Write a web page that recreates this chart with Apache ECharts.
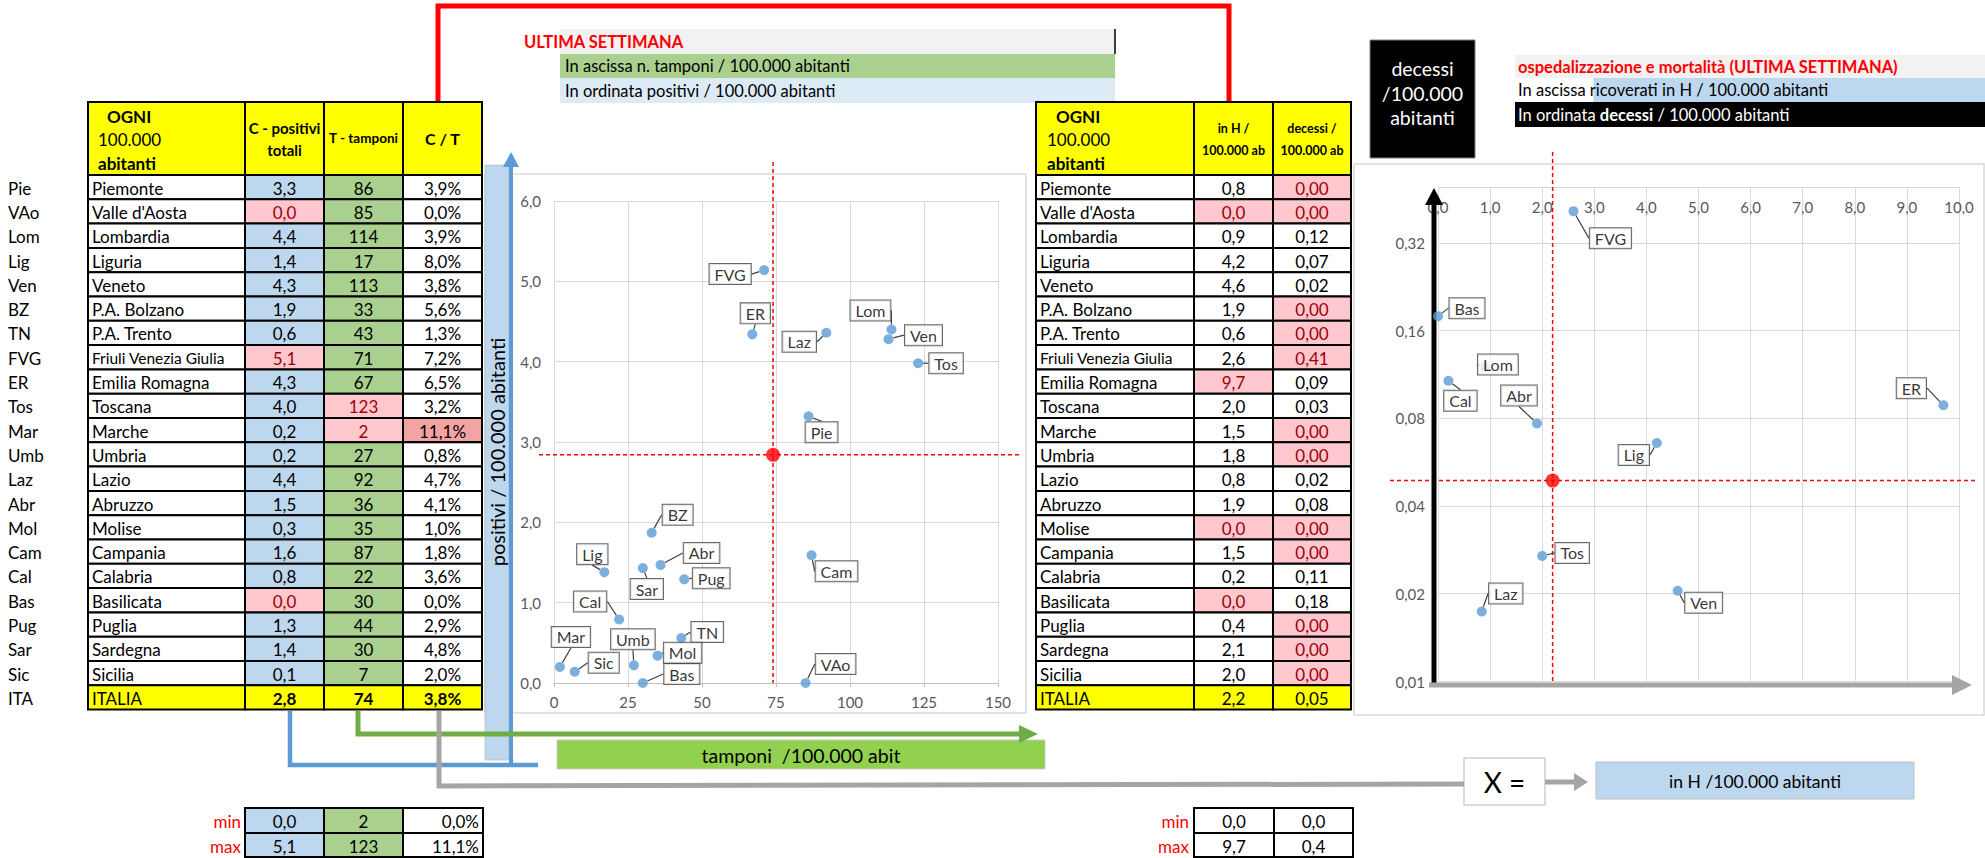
<!DOCTYPE html>
<html>
<head>
<meta charset="utf-8">
<script src="https://cdn.jsdelivr.net/npm/echarts@6/dist/echarts.min.js"></script>
<style>
  html, body { margin: 0; padding: 0; background: #fff; }
  #main { width: 1985px; height: 858px; }
</style>
</head>
<body>
<div id="main"></div>
<script>
// dati settimanali ogni 100.000 abitanti
const abbr = ['Pie', 'VAo', 'Lom', 'Lig', 'Ven', 'BZ', 'TN', 'FVG', 'ER', 'Tos', 'Mar', 'Umb', 'Laz', 'Abr', 'Mol', 'Cam', 'Cal', 'Bas', 'Pug', 'Sar', 'Sic'];
const regioni = ['Piemonte', "Valle d'Aosta", 'Lombardia', 'Liguria', 'Veneto', 'P.A. Bolzano', 'P.A. Trento', 'Friuli Venezia Giulia', 'Emilia Romagna', 'Toscana', 'Marche', 'Umbria', 'Lazio', 'Abruzzo', 'Molise', 'Campania', 'Calabria', 'Basilicata', 'Puglia', 'Sardegna', 'Sicilia'];
const positivi = [3.32, 0, 4.40, 1.38, 4.28, 1.87, 0.56, 5.14, 4.34, 3.98, 0.20, 0.22, 4.36, 1.47, 0.34, 1.59, 0.79, 0, 1.29, 1.43, 0.14];
const tamponi = [86, 85, 114, 17, 113, 33, 43, 71, 67, 123, 2, 27, 92, 36, 35, 87, 22, 30, 44, 30, 7];
const cSuT = [3.9, 0.0, 3.9, 8.0, 3.8, 5.6, 1.3, 7.2, 6.5, 3.2, 11.1, 0.8, 4.7, 4.1, 1.0, 1.8, 3.6, 0.0, 2.9, 4.8, 2.0];
const inH = [0.8, 0, 0.9, 4.2, 4.6, 1.9, 0.6, 2.6, 9.7, 2.0, 1.5, 1.8, 0.84, 1.9, 0, 1.5, 0.2, 0, 0.4, 2.1, 2.0];
const decessi = [0, 0, 0.12, 0.066, 0.0205, 0, 0, 0.413, 0.089, 0.027, 0, 0, 0.0174, 0.077, 0, 0, 0.108, 0.18, 0, 0, 0];

const itaPositivi = 2.84, itaTamponi = 74, itaCsuT = 3.8, itaInH = 2.2, itaDecessi = 0.049;

// posizione delle etichette (dx, dy rispetto al punto)
const callout1 = { FVG: [-34, 4], ER: [3, -21], Laz: [-27, 9], Lom: [-21, -19], Ven: [35, -4], Tos: [28, 0], Pie: [13, 16], BZ: [26, -18], Lig: [-12, -18], Sar: [4, 21], Abr: [41, -12], Pug: [27, -1], Cam: [25, 16], Cal: [-29, -18], TN: [26, -6], Mar: [11, -30], Sic: [29, -9], Umb: [-1, -26], Mol: [25, -3], Bas: [39, -9], VAo: [30, -19] };
const callout2 = { FVG: [37, 27], Bas: [29, -8], Lom: [13, -3], Cal: [12, 20], Abr: [-18, -28], ER: [-32, -17], Lig: [-23, 12], Tos: [30, -3], Laz: [24, -18], Ven: [26, 12] };

const FONT = 'Lato, "Liberation Sans", sans-serif';
const fmt = (v, d) => v.toFixed(d).replace('.', ',');

const g = [];
function rect(x, y, w, h, fill, stroke, lw, z) {
  g.push({ type: 'rect', silent: true, z: z || 0, shape: { x: x, y: y, width: w, height: h },
    style: { fill: fill || 'transparent', stroke: stroke || null, lineWidth: lw || 0 } });
}
function text(x, y, s, o) {
  o = o || {};
  g.push({ type: 'text', silent: true, x: x, y: y, z: o.z || 6, rotation: o.rot || 0,
    style: { text: s, fill: o.color || '#000', fontSize: o.size || 17, fontFamily: FONT,
      fontWeight: o.bold ? 'bold' : 'normal', align: o.align || 'left', verticalAlign: 'middle', rich: o.rich } });
}
function line(points, color, lw, dash, z) {
  g.push({ type: 'polyline', silent: true, z: z || 3, shape: { points: points },
    style: { stroke: color, lineWidth: lw, fill: null, lineDash: dash || null } });
}
function tri(points, color, z) {
  g.push({ type: 'polygon', silent: true, z: z || 3, shape: { points: points }, style: { fill: color } });
}

const PINK = '#FFC7CE', PINKTXT = '#9C0006', BLUE = '#BDD7EE', GREEN = '#A9D08E', YELLOW = '#FFFF00';
const HT = 102, HB = 175, RH = 24.3;

function cell(x0, x1, y0, y1, fill) { rect(x0, y0, x1 - x0, y1 - y0, fill, '#000', 2, 2); }

// ---- tabella sinistra ----
const LX = [88, 245, 324, 403, 482];
for (let c = 0; c < 4; c++) cell(LX[c], LX[c + 1], HT, HB, YELLOW);
text(107, 116, 'OGNI', { bold: true });
text(98, 139, '100.000');
text(98, 163, 'abitanti', { bold: true });
text(284.5, 128, 'C - positivi', { bold: true, align: 'center', size: 15 });
text(284.5, 150, 'totali', { bold: true, align: 'center', size: 15 });
text(363.5, 138, 'T - tamponi', { bold: true, align: 'center', size: 13.5 });
text(442.5, 138, 'C / T', { bold: true, align: 'center', size: 16 });

const cMin = fmt(Math.min(...positivi), 1), cMax = fmt(Math.max(...positivi), 1);
const tMin = Math.min(...tamponi), tMax = Math.max(...tamponi);
const ctMax = Math.max(...cSuT), ctMin = Math.min(...cSuT);

for (let i = 0; i <= regioni.length; i++) {
  const y0 = HB + i * RH, y1 = y0 + RH, ym = y0 + RH / 2 + 1;
  const ita = i === regioni.length;
  text(8, ym, ita ? 'ITA' : abbr[i]);
  if (ita) {
    for (let c = 0; c < 4; c++) cell(LX[c], LX[c + 1], y0, y1, YELLOW);
    text(92, ym, 'ITALIA');
    text(284.5, ym, fmt(itaPositivi, 1), { bold: true, align: 'center' });
    text(363.5, ym, String(itaTamponi), { bold: true, align: 'center' });
    text(442.5, ym, fmt(itaCsuT, 1) + '%', { bold: true, align: 'center' });
    continue;
  }
  const cs = fmt(positivi[i], 1);
  const cHi = cs === cMin || cs === cMax;
  const tHi = tamponi[i] === tMin || tamponi[i] === tMax;
  const ctHi = cSuT[i] === ctMax;
  cell(LX[0], LX[1], y0, y1, '#fff');
  cell(LX[1], LX[2], y0, y1, cHi ? PINK : BLUE);
  cell(LX[2], LX[3], y0, y1, tHi ? PINK : GREEN);
  cell(LX[3], LX[4], y0, y1, ctHi ? '#F4A3A3' : '#fff');
  const long = regioni[i].length > 16;
  text(92, ym, regioni[i], { size: long ? 15.5 : 17 });
  text(284.5, ym, cs, { align: 'center', color: cHi ? PINKTXT : '#000' });
  text(363.5, ym, String(tamponi[i]), { align: 'center', color: tHi ? PINKTXT : '#000' });
  text(442.5, ym, fmt(cSuT[i], 1) + '%', { align: 'center' });
}

// ---- tabella destra ----
const RX = [1036, 1194, 1273, 1351];
for (let c = 0; c < 3; c++) cell(RX[c], RX[c + 1], HT, HB, YELLOW);
text(1056, 116, 'OGNI', { bold: true });
text(1047, 139, '100.000');
text(1047, 163, 'abitanti', { bold: true });
text(1233.5, 128, 'in H /', { bold: true, align: 'center', size: 12.5 });
text(1233.5, 150, '100.000 ab', { bold: true, align: 'center', size: 12.5 });
text(1312, 128, 'decessi /', { bold: true, align: 'center', size: 12.5 });
text(1312, 150, '100.000 ab', { bold: true, align: 'center', size: 12.5 });

const hMin = fmt(Math.min(...inH), 1), hMax = fmt(Math.max(...inH), 1);
const dMin = fmt(Math.min(...decessi), 2), dMax = fmt(Math.max(...decessi), 2);
for (let i = 0; i <= regioni.length; i++) {
  const y0 = HB + i * RH, y1 = y0 + RH, ym = y0 + RH / 2 + 1;
  if (i === regioni.length) {
    for (let c = 0; c < 3; c++) cell(RX[c], RX[c + 1], y0, y1, YELLOW);
    text(1040, ym, 'ITALIA');
    text(1233.5, ym, fmt(itaInH, 1), { align: 'center' });
    text(1312, ym, fmt(itaDecessi, 2), { align: 'center' });
    continue;
  }
  const hs = fmt(inH[i], 1), ds = fmt(decessi[i], 2);
  const hHi = hs === hMin || hs === hMax, dHi = ds === dMin || ds === dMax;
  cell(RX[0], RX[1], y0, y1, '#fff');
  cell(RX[1], RX[2], y0, y1, hHi ? PINK : '#fff');
  cell(RX[2], RX[3], y0, y1, dHi ? PINK : '#fff');
  text(1040, ym, regioni[i], { size: regioni[i].length > 16 ? 15.5 : 17 });
  text(1233.5, ym, hs, { align: 'center', color: hHi ? PINKTXT : '#000' });
  text(1312, ym, ds, { align: 'center', color: dHi ? PINKTXT : '#000' });
}

// ---- min / max ----
const MY = [808, 833, 857];
for (let r = 0; r < 2; r++) {
  const ym = (MY[r] + MY[r + 1]) / 2 + 1;
  cell(245, 324, MY[r], MY[r + 1], BLUE);
  cell(324, 403, MY[r], MY[r + 1], GREEN);
  cell(403, 483, MY[r], MY[r + 1], '#fff');
  cell(1194, 1274, MY[r], MY[r + 1], '#fff');
  cell(1274, 1353, MY[r], MY[r + 1], '#fff');
  text(241, ym, r ? 'max' : 'min', { align: 'right', color: '#FF0000' });
  text(1189, ym, r ? 'max' : 'min', { align: 'right', color: '#FF0000' });
}
text(284.5, 821.5, cMin, { align: 'center' });
text(284.5, 846, cMax, { align: 'center' });
text(363.5, 821.5, String(tMin), { align: 'center' });
text(363.5, 846, String(tMax), { align: 'center' });
text(479, 821.5, fmt(ctMin, 1) + '%', { align: 'right' });
text(479, 846, fmt(ctMax, 1) + '%', { align: 'right' });
text(1234, 821.5, hMin, { align: 'center' });
text(1234, 846, hMax, { align: 'center' });
text(1313.5, 821.5, fmt(Math.min(...decessi), 1), { align: 'center' });
text(1313.5, 846, fmt(Math.max(...decessi), 1), { align: 'center' });

// ---- riquadri testo in alto ----
rect(560, 29, 555, 25, '#F2F2F2');
line([[1115, 29], [1115, 54]], '#000', 1.5);
text(524, 42, 'ULTIMA SETTIMANA', { bold: true, color: '#FF0000', size: 16.5 });
rect(560, 54, 555, 24, GREEN);
text(565, 66, 'In ascissa n. tamponi / 100.000 abitanti', { size: 16.5 });
rect(560, 78, 555, 25, '#DDEBF7');
text(565, 91, 'In ordinata positivi / 100.000 abitanti', { size: 16.5 });

rect(1370, 40, 105, 118, '#000', '#7F7F7F', 1);
text(1422.5, 68, 'decessi', { color: '#fff', size: 19.5, align: 'center' });
text(1422.5, 93, '/100.000', { color: '#fff', size: 19.5, align: 'center' });
text(1422.5, 117, 'abitanti', { color: '#fff', size: 19.5, align: 'center' });
rect(1515, 55, 470, 23, '#F2F2F2');
text(1518, 67, 'ospedalizzazione e mortalità (ULTIMA SETTIMANA)', { bold: true, color: '#FF0000', size: 16.5 });
rect(1593.5, 78, 391.5, 24, BLUE);
text(1518, 90, 'In ascissa ricoverati in H / 100.000 abitanti', { size: 16.5 });
rect(1515, 102, 470, 25, '#000');
text(1518, 115, 'In ordinata {b|decessi} / 100.000 abitanti', { size: 16.5, color: '#fff',
  rich: { b: { fontWeight: 'bold', fontSize: 16.5, fontFamily: FONT, fill: '#fff', color: '#fff' } } });

// ---- cornici dei grafici ----
rect(485, 174, 541, 539, 'transparent', '#D9D9D9', 1.5, 0);
rect(1354, 164, 630, 551, 'transparent', '#D9D9D9', 1.5, 0);

// ---- frecce e collegamenti ----
line([[438, 101], [438, 6], [1229, 6], [1229, 101]], '#FF0000', 5, null, 4);

rect(485, 165, 24, 595, BLUE, '#A6A6A6', 0.5, 1);
text(497, 452, 'positivi / 100.000 abitanti', { rot: Math.PI / 2, size: 20, align: 'center' });
line([[511, 765], [511, 164]], '#5B9BD5', 4);
tri([[511, 152], [503, 167], [519, 167]], '#5B9BD5');
line([[290, 711], [290, 765], [538, 765]], '#5B9BD5', 4.5);

line([[358, 711], [358, 734], [1020, 734]], '#70AD47', 5);
tri([[1038, 734], [1019, 725], [1019, 743]], '#70AD47');
rect(557, 740, 488, 29, '#92D050', '#C9C9C9', 1);
text(801, 755.5, 'tamponi  /100.000 abit', { size: 19.5, align: 'center' });

line([[439, 711], [439, 786], [1464, 784]], '#A5A5A5', 5);
rect(1464, 758, 81, 47, '#fff', '#D0D0D0', 1.5);
text(1504.5, 782, 'X =', { size: 28, align: 'center' });
line([[1545, 782], [1575, 782]], '#A5A5A5', 5);
tri([[1588, 782], [1574, 773], [1574, 791]], '#A5A5A5');
rect(1596, 762, 318, 37, BLUE, '#BFBFBF', 1);
text(1755, 781, 'in H /100.000 abitanti', { size: 17.5, align: 'center' });

// frecce del secondo grafico
line([[1434, 684], [1434, 202]], '#000', 5, null, 4);
tri([[1434, 188], [1425, 205], [1443, 205]], '#000', 4);
line([[1429, 685], [1955, 685]], '#A5A5A5', 5, null, 4);
tri([[1972, 685], [1952, 675], [1952, 695]], '#A5A5A5', 4);

// ---- dati dei grafici ----
const dataC = abbr.map((a, i) => [tamponi[i], positivi[i], a]);
const dataH = [];
abbr.forEach((a, i) => { if (decessi[i] > 0) dataH.push([inH[i], decessi[i], a]); });

const labelStyle = {
  show: true, position: 'inside', formatter: p => p.data[2], color: '#000', fontSize: 16, fontFamily: FONT,
  backgroundColor: '#fff', borderColor: '#404040', borderWidth: 1, padding: [2, 5]
};
const axisLbl = { color: '#595959', fontSize: 15, fontFamily: FONT };
const split = { show: true, lineStyle: { color: '#D9D9D9', width: 1 } };

const chart = echarts.init(document.getElementById('main'), null, { renderer: 'svg' });
chart.setOption({
  animation: false,
  grid: [
    { left: 554, top: 201, width: 444, height: 482 },
    { left: 1438, top: 187, width: 521, height: 494.5 }
  ],
  xAxis: [
    { type: 'value', gridIndex: 0, min: 0, max: 150, interval: 25, splitLine: split,
      axisLine: { show: true, lineStyle: { color: '#BFBFBF' } }, axisTick: { show: true, length: 4, lineStyle: { color: '#BFBFBF' } },
      axisLabel: Object.assign({ margin: 11 }, axisLbl) },
    { type: 'value', gridIndex: 1, position: 'top', min: 0, max: 10, interval: 1, splitLine: split,
      axisLine: { show: false }, axisTick: { show: false },
      axisLabel: Object.assign({ inside: true, margin: 12, formatter: v => fmt(v, 1) }, axisLbl) }
  ],
  yAxis: [
    { type: 'value', gridIndex: 0, min: 0, max: 6, interval: 1, splitLine: split,
      axisLine: { show: false }, axisTick: { show: false },
      axisLabel: Object.assign({ margin: 13, formatter: v => fmt(v, 1) }, axisLbl) },
    { type: 'log', logBase: 2, gridIndex: 1, min: 0.01, max: 0.5, interval: 1, splitLine: split,
      axisLine: { show: false }, axisTick: { show: false },
      axisLabel: Object.assign({ margin: 13, showMaxLabel: false, formatter: v => fmt(v, 2) }, axisLbl) }
  ],
  series: [
    { type: 'scatter', xAxisIndex: 0, yAxisIndex: 0, data: dataC, symbolSize: 10, z: 4,
      itemStyle: { color: '#5B9BD5' }, label: labelStyle,
      labelLine: { show: true, lineStyle: { color: '#404040', width: 1.2 } },
      labelLayout: p => { const o = callout1[dataC[p.dataIndex][2]]; return { dx: o[0], dy: o[1] }; } },
    { type: 'scatter', xAxisIndex: 0, yAxisIndex: 0, data: [[itaTamponi, itaPositivi]], symbolSize: 14, z: 5,
      itemStyle: { color: '#FF0000' } },
    { type: 'scatter', xAxisIndex: 1, yAxisIndex: 1, data: dataH, symbolSize: 10, z: 4,
      itemStyle: { color: '#5B9BD5' }, label: labelStyle,
      labelLine: { show: true, lineStyle: { color: '#404040', width: 1.2 } },
      labelLayout: p => { const o = callout2[dataH[p.dataIndex][2]]; return { dx: o[0], dy: o[1] }; } },
    { type: 'scatter', xAxisIndex: 1, yAxisIndex: 1, data: [[itaInH, itaDecessi]], symbolSize: 14, z: 5,
      itemStyle: { color: '#FF0000' } }
  ]
});

// linee tratteggiate sulla media Italia
const p1 = chart.convertToPixel({ gridIndex: 0 }, [itaTamponi, itaPositivi]);
line([[p1[0], 162], [p1[0], 683]], '#FF0000', 1.5, [4, 3], 1);
line([[539, p1[1]], [1019, p1[1]]], '#FF0000', 1.5, [4, 3], 1);
const p2 = chart.convertToPixel({ gridIndex: 1 }, [itaInH, itaDecessi]);
line([[p2[0], 152], [p2[0], 684]], '#FF0000', 1.5, [4, 3], 1);
line([[1390, p2[1]], [1975, p2[1]]], '#FF0000', 1.5, [4, 3], 1);

chart.setOption({ graphic: { elements: g } });
</script>
</body>
</html>
